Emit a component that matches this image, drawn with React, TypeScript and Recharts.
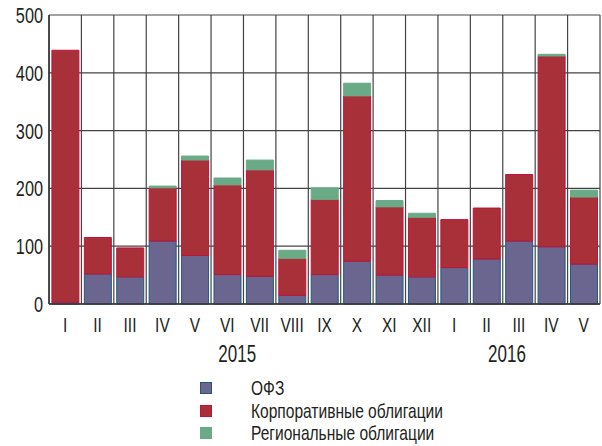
import { BarChart, Bar, XAxis, YAxis, CartesianGrid, Legend } from 'recharts';

const MONTHS = ['I', 'II', 'III', 'IV', 'V', 'VI', 'VII', 'VIII', 'IX', 'X', 'XI', 'XII', 'I', 'II', 'III', 'IV', 'V'];
const OFZ = [3, 52, 47, 109, 84, 51, 48, 15, 51, 74, 50, 47, 63, 78, 109, 99, 69];
const CORP = [436, 63, 50, 92, 165, 155, 184, 64, 130, 286, 118, 103, 83, 88, 115, 330, 116];
const REG = [0, 0, 0, 3, 7, 12, 17, 14, 20, 22, 11, 7, 0, 0, 0, 3, 12];
const Y_TICKS = [0, 100, 200, 300, 400, 500];
// year captions sit under these months
const YEARS: Record<number, string> = { 5: '2015', 14: '2016' };
const YEAR_SHIFT: Record<number, number> = { 5: 10, 14: -12 };

const SERIES = [
  { key: 'ofz', name: 'ОФЗ', fill: '#6b6690', stroke: '#1f5a7c' },
  { key: 'corp', name: 'Корпоративные облигации', fill: '#a83038', stroke: '#c4113a' },
  { key: 'reg', name: 'Региональные облигации', fill: '#6aaa86', stroke: '#6aaa86' },
];

// no narrow face installed, so squeeze Liberation Sans horizontally
const FONT = '"Liberation Sans", Arial, sans-serif';
const SX = 0.74;
const INK = '#231f20';

const data = MONTHS.map((m, i) => ({ month: m, ofz: OFZ[i], corp: CORP[i], reg: REG[i] }));

function NarrowText({ x, y, size, anchor, dy, children }: any) {
  return (
    <text
      transform={`translate(${x},${y}) scale(${SX},1)`}
      x={0}
      y={0}
      dy={dy}
      textAnchor={anchor}
      fontFamily={FONT}
      fontSize={size}
      fill={INK}
    >
      {children}
    </text>
  );
}

function MonthTick(props: any) {
  const { x, y, payload } = props;
  return <NarrowText x={x} y={y} size={21} anchor="middle" dy="0.71em">{payload.value}</NarrowText>;
}

function ValueTick(props: any) {
  const { x, y, payload } = props;
  return <NarrowText x={x} y={y} size={22} anchor="end" dy="0.36em">{payload.value}</NarrowText>;
}

function YearTick(props: any) {
  const { x, y, index } = props;
  const label = YEARS[index];
  if (!label) return null;
  return <NarrowText x={x + YEAR_SHIFT[index]} y={y} size={23} anchor="middle" dy="0.71em">{label}</NarrowText>;
}

function LegendBox() {
  return (
    <div style={{ fontFamily: FONT, fontSize: 21, color: INK, lineHeight: '22.5px' }}>
      {SERIES.map((s) => (
        <div key={s.key} style={{ display: 'flex', alignItems: 'center', height: 22.5, whiteSpace: 'nowrap' }}>
          <span
            style={{
              display: 'inline-block', width: 10, height: 10, background: s.fill,
              border: `1px solid ${s.stroke}`, marginRight: 39,
            }}
          />
          <span style={{ display: 'inline-block', transform: `scaleX(${SX})`, transformOrigin: 'left center' }}>
            {s.name}
          </span>
        </div>
      ))}
    </div>
  );
}

export default function App() {
  return (
    <div style={{ position: 'absolute', left: 0, top: 0, background: '#fff' }}>
      <BarChart
        width={602}
        height={446}
        data={data}
        margin={{ top: 15, right: 2, left: 0, bottom: 72 }}
        barCategoryGap="9%"
      >
        <CartesianGrid
          stroke="#444"
          strokeWidth={1.2}
          verticalCoordinatesGenerator={({ offset }: any) =>
            Array.from({ length: MONTHS.length + 1 }, (_, i) => offset.left + (i * offset.width) / MONTHS.length)
          }
        />
        <XAxis
          dataKey="month"
          interval={0}
          height={40}
          tickLine={false}
          tickSize={0}
          tickMargin={13}
          axisLine={{ stroke: '#333', strokeWidth: 1.5 }}
          tick={<MonthTick />}
        />
        <XAxis
          xAxisId="year"
          dataKey="month"
          interval={0}
          height={30}
          tickLine={false}
          axisLine={false}
          tickSize={0}
          tickMargin={2}
          tick={<YearTick />}
        />
        <YAxis
          width={49}
          domain={[0, 500]}
          ticks={Y_TICKS}
          tickLine={false}
          tickSize={0}
          tickMargin={6}
          axisLine={{ stroke: '#333', strokeWidth: 1.5 }}
          tick={<ValueTick />}
        />
        <Legend
          layout="vertical"
          align="center"
          verticalAlign="middle"
          content={<LegendBox />}
          wrapperStyle={{ top: 377, left: 200, width: 'auto' }}
        />
        {SERIES.map((s) => (
          <Bar
            key={s.key}
            dataKey={s.key}
            name={s.name}
            stackId="a"
            fill={s.fill}
            stroke={s.stroke}
            strokeWidth={1}
            isAnimationActive={false}
          />
        ))}
      </BarChart>
    </div>
  );
}
